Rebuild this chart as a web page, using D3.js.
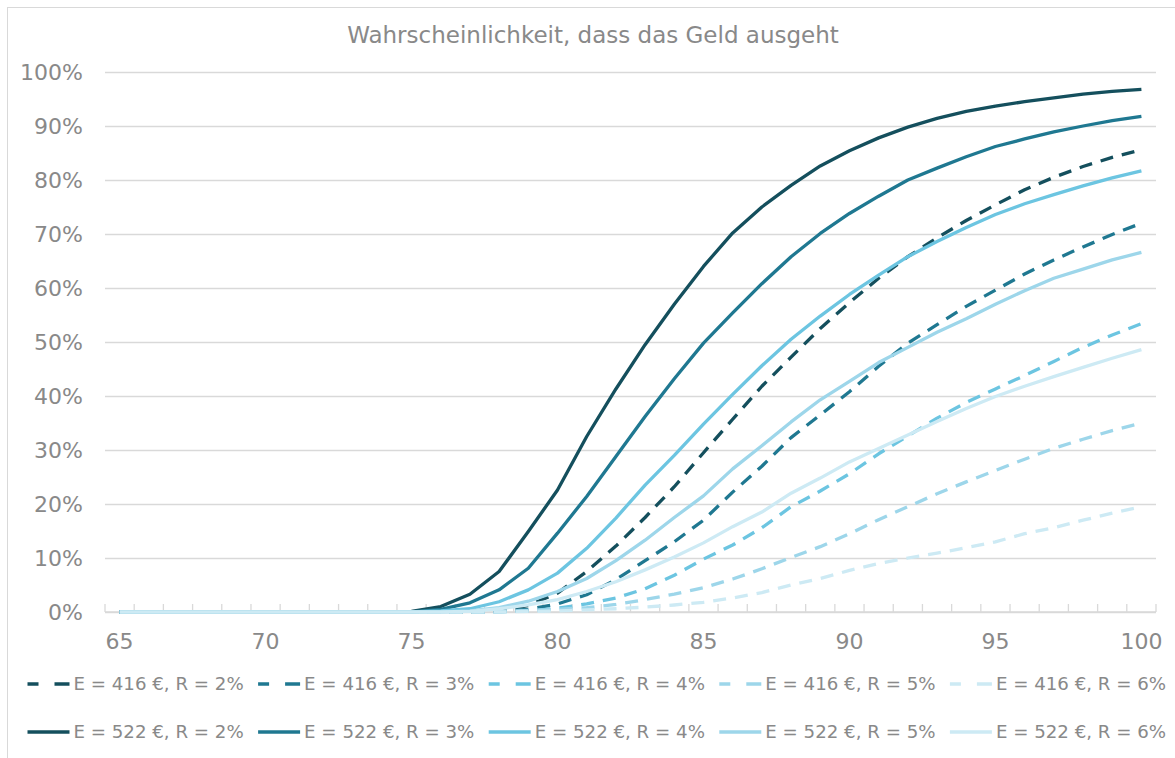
<!DOCTYPE html>
<html>
<head>
<meta charset="utf-8">
<script src="https://cdn.jsdelivr.net/npm/d3@7"></script>
<style>
    body { margin: 0; background: #ffffff; }
    text { font-family: "DejaVu Sans", Verdana, sans-serif; fill: #898989; }
</style>
</head>
<body>
<svg id="chart"></svg>
<script>
/* Ages on the x axis */
const ages = d3.range(65, 101);
const xTickLabels = [65, 70, 75, 80, 85, 90, 95, 100];
const yTickValues = [0, 0.1, 0.2, 0.3, 0.4, 0.5, 0.6, 0.7, 0.8, 0.9, 1.0];

/* Probability (in %) that the money runs out, ages 65..100 */
const zeros = [0, 0, 0, 0, 0, 0, 0, 0, 0, 0];   // ages 65..74
const e416r2 = zeros.concat([0, 0, 0, 0.3, 1.2, 3.5, 7.5, 12.2, 17.5, 23.2, 29.5, 35.7, 41.8, 47.2, 52.5, 57.3, 61.8, 65.8, 69.3, 72.5, 75.4, 78.2, 80.5, 82.5, 84.2, 85.6]);
const e416r3 = zeros.concat([0, 0, 0, 0.1, 0.5, 1.5, 3.2, 6.0, 9.5, 13.0, 17.0, 22.2, 27.0, 32.3, 36.5, 40.8, 45.5, 49.8, 53.2, 56.6, 59.6, 62.6, 65.2, 67.6, 69.9, 72.0]);
const e416r4 = zeros.concat([0, 0, 0, 0, 0.2, 0.7, 1.5, 2.6, 4.3, 6.8, 9.8, 12.4, 15.6, 19.5, 22.4, 25.6, 29.3, 32.6, 35.9, 38.8, 41.3, 43.8, 46.4, 49.0, 51.3, 53.4]);
const e416r5 = zeros.concat([0, 0, 0, 0.1, 0.3, 0.5, 0.8, 1.4, 2.3, 3.3, 4.5, 6.1, 8.0, 10.1, 12.1, 14.5, 17.1, 19.5, 21.9, 24.1, 26.2, 28.3, 30.3, 32.0, 33.6, 35.0]);
const e416r6 = zeros.concat([0, 0, 0, 0, 0.1, 0.2, 0.4, 0.6, 0.9, 1.3, 1.8, 2.6, 3.6, 5.0, 6.2, 7.7, 9.0, 10.0, 10.9, 11.9, 13.0, 14.5, 15.6, 17.0, 18.3, 19.5]);
const e522r2 = zeros.concat([0.1, 1.0, 3.3, 7.5, 14.9, 22.6, 32.5, 41.3, 49.5, 57.0, 64.0, 70.2, 75.0, 79.0, 82.6, 85.4, 87.8, 89.8, 91.4, 92.7, 93.7, 94.5, 95.2, 95.9, 96.4, 96.8]);
const e522r3 = zeros.concat([0, 0.5, 1.7, 4.1, 8.1, 14.6, 21.4, 28.8, 36.2, 43.2, 49.8, 55.4, 60.8, 65.8, 70.1, 73.8, 77.0, 80.0, 82.2, 84.3, 86.2, 87.6, 88.9, 90.0, 91.0, 91.8]);
const e522r4 = zeros.concat([0, 0.2, 0.6, 1.9, 4.1, 7.2, 11.8, 17.4, 23.5, 29.0, 34.8, 40.3, 45.6, 50.5, 54.8, 58.8, 62.4, 65.8, 68.6, 71.2, 73.6, 75.6, 77.3, 78.9, 80.4, 81.7]);
const e522r5 = zeros.concat([0, 0, 0.2, 0.8, 2.0, 3.8, 6.2, 9.5, 13.3, 17.5, 21.5, 26.5, 30.8, 35.2, 39.3, 42.7, 46.2, 49.0, 51.8, 54.3, 57.0, 59.5, 61.8, 63.5, 65.2, 66.6]);
const e522r6 = zeros.concat([0, 0, 0.1, 0.6, 1.3, 2.3, 3.8, 5.6, 7.8, 10.2, 12.8, 15.8, 18.5, 22.0, 24.8, 27.8, 30.3, 32.8, 35.3, 37.7, 39.9, 41.8, 43.6, 45.3, 47.0, 48.6]);

const seriesNames = [
    "E = 416 €, R = 2%", "E = 416 €, R = 3%", "E = 416 €, R = 4%", "E = 416 €, R = 5%", "E = 416 €, R = 6%",
    "E = 522 €, R = 2%", "E = 522 €, R = 3%", "E = 522 €, R = 4%", "E = 522 €, R = 5%", "E = 522 €, R = 6%"
];
const seriesValues = [e416r2, e416r3, e416r4, e416r5, e416r6, e522r2, e522r3, e522r4, e522r5, e522r6];
const rateColors = ["#144f5d", "#1f7891", "#6cc5e1", "#9dd6ea", "#cdeaf4"];

let svgWidth = 1175;
let svgHeight = 758;

let padding = {
    top: 72,
    bottom: 146,
    left: 105,
    right: 19
};

let svg = d3.select("svg#chart")
    .attr("width", svgWidth)
    .attr("height", svgHeight);

/* chart frame (only the top and left edges are inside the picture) */
svg.append("rect")
    .attr("x", 7.5)
    .attr("y", 7.5)
    .attr("width", 1300)
    .attr("height", 900)
    .attr("fill", "none")
    .attr("stroke", "#d9d9d9");

let plotWidth = svgWidth - padding.left - padding.right;
let plotHeight = svgHeight - padding.top - padding.bottom;

let xScale = d3.scaleBand()
    .domain(ages)
    .range([padding.left, padding.left + plotWidth])
    .paddingInner(0)
    .paddingOuter(0);

let yScale = d3.scaleLinear()
    .domain([0, 1])
    .range([padding.top + plotHeight, padding.top]);

/* title */
svg.append("text")
    .attr("x", 593)
    .attr("y", 43)
    .style("text-anchor", "middle")
    .style("font-size", "23px")
    .text("Wahrscheinlichkeit, dass das Geld ausgeht");

/* horizontal grid lines + y labels */
let yAxis = d3.axisLeft(yScale)
    .tickValues(yTickValues)
    .tickSize(-plotWidth)
    .tickPadding(22)
    .tickFormat(d3.format(".0%"));

let yAxisG = svg.append("g")
    .attr("transform", "translate(" + padding.left + ",0)")
    .call(yAxis);
yAxisG.select("path.domain").remove();
yAxisG.selectAll(".tick line").attr("stroke", "#d9d9d9").attr("stroke-width", 1.3);
yAxisG.selectAll(".tick text")
    .style("font-size", "22px")
    .style("font-family", "'DejaVu Sans', Verdana, sans-serif")
    .attr("fill", "#898989");

/* x axis: line, category boundary ticks, labels every 5 years */
let baseY = yScale(0);
svg.append("line")
    .attr("x1", padding.left)
    .attr("x2", padding.left + plotWidth)
    .attr("y1", baseY)
    .attr("y2", baseY)
    .attr("stroke", "#d9d9d9")
    .attr("stroke-width", 1.3);

let boundaries = ages.map(a => xScale(a)).concat([padding.left + plotWidth]);
svg.append("g").selectAll("line")
    .data(boundaries)
    .join("line")
    .attr("x1", d => d)
    .attr("x2", d => d)
    .attr("y1", baseY - 8)
    .attr("y2", baseY)
    .attr("stroke", "#d9d9d9")
    .attr("stroke-width", 1.3);

svg.append("g").selectAll("text")
    .data(xTickLabels)
    .join("text")
    .attr("x", d => xScale(d) + xScale.bandwidth() / 2)
    .attr("y", baseY + 37)
    .style("text-anchor", "middle")
    .style("font-size", "22px")
    .text(d => d);

/* lines */
let lineGen = d3.line()
    .x((d, i) => xScale(ages[i]) + xScale.bandwidth() / 2)
    .y(d => yScale(d / 100));

seriesValues.forEach((values, index) => {
    let dashed = index < 5;
    svg.append("path")
        .datum(values)
        .attr("d", lineGen)
        .attr("fill", "none")
        .attr("stroke", rateColors[index % 5])
        .attr("stroke-width", 3.3)
        .attr("stroke-linejoin", "round")
        .attr("stroke-dasharray", dashed ? "13,9" : null);
});

/* legend: two rows, dashed (416 €) on top, solid (522 €) below */
let legendStartX = 27.5;
let legendStep = 230.6;
let legendRowY = [684, 732];

seriesNames.forEach((name, index) => {
    let col = index % 5;
    let row = Math.floor(index / 5);
    let x0 = legendStartX + col * legendStep;
    let y0 = legendRowY[row];

    let item = svg.append("g")
        .attr("class", "legend-item")
        .attr("transform", "translate(" + x0 + "," + y0 + ")");

    item.append("line")
        .attr("x1", 0)
        .attr("x2", 42)
        .attr("y1", 0)
        .attr("y2", 0)
        .attr("stroke", rateColors[col])
        .attr("stroke-width", 3.6)
        .attr("stroke-dasharray", row === 0 ? "11,16,15" : null);

    item.append("text")
        .attr("x", 46)
        .attr("y", 0)
        .attr("dy", "0.35em")
        .style("font-size", "18.2px")
        .text(name);
});
</script>
</body>
</html>
